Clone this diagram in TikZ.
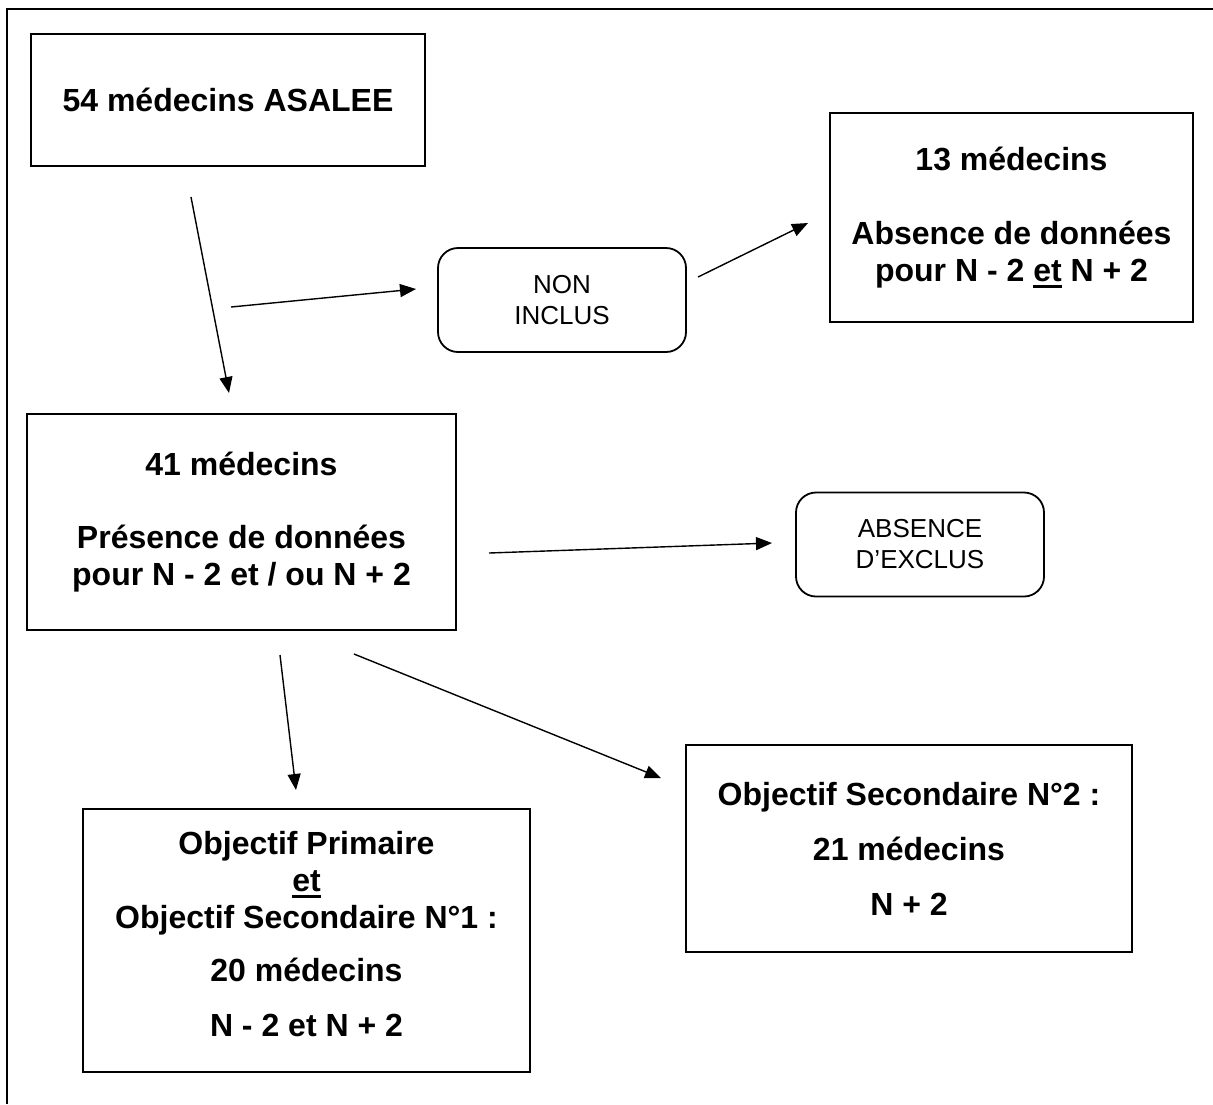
\documentclass[tikz,border=0pt]{standalone}
\usepackage{fontspec}
\setmainfont{Liberation Sans}
\usetikzlibrary{arrows.meta}
\newcommand{\undl}[1]{\setbox0\hbox{#1}\rlap{\rule[-3.6pt]{\wd0}{1.5pt}}\box0\relax}

\begin{document}
\begin{tikzpicture}[x=0.5pt, y=-0.5pt,
    medbox/.style={draw, line width=0.9pt, inner sep=0pt, align=center,
        font=\bfseries\fontsize{16}{18.5}\selectfont},
    statebox/.style={draw, line width=0.9pt, rounded corners=10pt, inner sep=0pt, align=center,
        minimum width=124pt, minimum height=52pt, font=\fontsize{13}{15.5}\selectfont},
    flow/.style={-{Triangle[length=8pt, width=6.5pt]}, line width=0.7pt}]
    \useasboundingbox (0,0) rectangle (1213,1104);
    \draw[line width=0.8pt] (7,1104) -- (7,9) -- (1213,9);

    \node[medbox, minimum width=197pt, minimum height=66pt] (asalee) at (228,100) {54 médecins ASALEE};
    \node[statebox] (noninclus) at (562,300) {NON\\INCLUS};
    \node[medbox, minimum width=181.5pt, minimum height=104.5pt] (absent) at (1011.5,217.5)
        {13 médecins\\[18.5pt]Absence de données\\pour N - 2 \undl{et} N + 2};
    \node[medbox, minimum width=214.5pt, minimum height=108pt] (present) at (241.5,522)
        {41 médecins\\[18pt]Présence de données\\pour N - 2 et / ou N + 2};
    \node[statebox] (exclus) at (920,544.5) {ABSENCE\\D’EXCLUS};
    \node[medbox, minimum width=223.5pt, minimum height=131.5pt] (primaire) at (306.5,940.5)
        {Objectif Primaire\\\undl{et}\\Objectif Secondaire N°1 :\\[8pt]20 médecins\\[9pt]N - 2 et N + 2\\[-11.5pt]};
    \node[medbox, minimum width=223pt, minimum height=103.5pt] (secondaire) at (909,848.5)
        {Objectif Secondaire N°2 :\\[9pt]21 médecins\\[9pt]N + 2};

    % free arrow ends
    \coordinate (asaleeout) at (191,197);
    \coordinate (presentin) at (229,393);
    \coordinate (branch) at (231,307);
    \coordinate (nonin) at (416,289);
    \coordinate (nonout) at (698,277);
    \coordinate (absentin) at (808,223);
    \coordinate (presentout) at (489,553);
    \coordinate (exclusin) at (772,543);
    \coordinate (primout) at (280,655);
    \coordinate (primin) at (296,790);
    \coordinate (secout) at (354,654);
    \coordinate (secin) at (661,778);

    \draw[flow] (asaleeout) -- (presentin);
    \draw[flow] (branch) -- (nonin);
    \draw[flow] (nonout) -- (absentin);
    \draw[flow] (presentout) -- (exclusin);
    \draw[flow] (primout) -- (primin);
    \draw[flow] (secout) -- (secin);
\end{tikzpicture}
\end{document}
